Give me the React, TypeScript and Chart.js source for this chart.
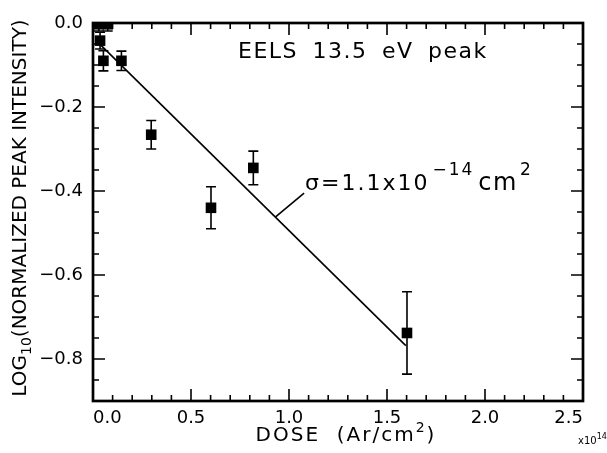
import { useEffect, useRef } from "react";
import { Chart, registerables } from "chart.js";

Chart.register(...registerables);

const FONT = '"DejaVu Sans", sans-serif';

// Ar dose, in units of 1e14 ions/cm^2
const doseValues = [0.03, 0.075, 0.036, 0.053, 0.145, 0.297, 0.602, 0.818, 1.602];
// log10 of the normalized 13.5 eV EELS peak intensity
const logIntensity = [-0.003, -0.003, -0.042, -0.09, -0.09, -0.266, -0.44, -0.345, -0.738];
// half-length of each error bar
const errorValues = [0.016, 0.016, 0.02, 0.024, 0.023, 0.034, 0.05, 0.04, 0.098];

// exponential-decay fit line, sigma = 1.1e-14 cm^2
const fitDose = [0.036, 1.596];
const fitLog = [-0.051, -0.768];

// short leader from the fit line to its label
const leaderDose = [0.93, 1.077];
const leaderLog = [-0.462, -0.405];

const xTickValues = [0, 0.5, 1.0, 1.5, 2.0, 2.5];
const yTickValues = [0, -0.2, -0.4, -0.6, -0.8];
const xMinorStep = 0.1;
const yMinorStep = 0.05;
const xRange = [0, 2.5];
const yRange = [-0.9, 0];

type Run = { t: string; size: number; dy?: number; gap?: number; ls?: number };

function setSpacing(ctx: CanvasRenderingContext2D, px: number) {
  (ctx as any).letterSpacing = `${px}px`;
}

function runsWidth(ctx: CanvasRenderingContext2D, runs: Run[], ls = 0) {
  let w = 0;
  for (const r of runs) {
    setSpacing(ctx, r.ls ?? ls);
    ctx.font = `${r.size}px ${FONT}`;
    w += ctx.measureText(r.t).width + (r.gap || 0);
  }
  setSpacing(ctx, 0);
  return w;
}

function drawRuns(ctx: CanvasRenderingContext2D, runs: Run[], x: number, y: number, ls = 0) {
  let cx = x;
  for (const r of runs) {
    setSpacing(ctx, r.ls ?? ls);
    ctx.font = `${r.size}px ${FONT}`;
    ctx.fillText(r.t, cx, y + (r.dy || 0));
    cx += ctx.measureText(r.t).width + (r.gap || 0);
  }
  setSpacing(ctx, 0);
}

const errorBars = {
  id: "errorBars",
  beforeDatasetsDraw(chart: any) {
    const { ctx, chartArea: a, scales } = chart;
    const x = scales.x;
    const y = scales.y;
    ctx.save();
    ctx.beginPath();
    ctx.rect(a.left, a.top, a.right - a.left, a.bottom - a.top);
    ctx.clip();
    ctx.strokeStyle = "#000";
    ctx.lineWidth = 1.6;
    doseValues.forEach((d, i) => {
      const px = x.getPixelForValue(d);
      const y1 = y.getPixelForValue(logIntensity[i] + errorValues[i]);
      const y2 = y.getPixelForValue(logIntensity[i] - errorValues[i]);
      ctx.beginPath();
      ctx.moveTo(px, y1);
      ctx.lineTo(px, y2);
      ctx.moveTo(px - 5, y1);
      ctx.lineTo(px + 5, y1);
      ctx.moveTo(px - 5, y2);
      ctx.lineTo(px + 5, y2);
      ctx.stroke();
    });
    ctx.restore();
  },
};

const frameAndText = {
  id: "frameAndText",
  afterDatasetsDraw(chart: any) {
    const { ctx, chartArea: a, scales } = chart;
    const x = scales.x;
    const y = scales.y;
    ctx.save();
    ctx.strokeStyle = "#000";
    ctx.fillStyle = "#000";

    // inward ticks on all four sides
    ctx.lineWidth = 1.6;
    ctx.beginPath();
    const nx = Math.round((xRange[1] - xRange[0]) / xMinorStep);
    for (let k = 0; k <= nx; k++) {
      const v = xRange[0] + k * xMinorStep;
      const major = xTickValues.some((t) => Math.abs(t - v) < 1e-6);
      const len = major ? 12 : 6;
      const px = x.getPixelForValue(v);
      ctx.moveTo(px, a.bottom);
      ctx.lineTo(px, a.bottom - len);
      ctx.moveTo(px, a.top);
      ctx.lineTo(px, a.top + len);
    }
    const ny = Math.round((yRange[1] - yRange[0]) / yMinorStep);
    for (let k = 0; k <= ny; k++) {
      const v = yRange[1] - k * yMinorStep;
      const major = yTickValues.some((t) => Math.abs(t - v) < 1e-6);
      const len = major ? 12 : 6;
      const py = y.getPixelForValue(v);
      ctx.moveTo(a.left, py);
      ctx.lineTo(a.left + len, py);
      ctx.moveTo(a.right, py);
      ctx.lineTo(a.right - len, py);
    }
    ctx.stroke();

    // frame
    ctx.lineWidth = 2.7;
    ctx.strokeRect(a.left, a.top, a.right - a.left, a.bottom - a.top);

    // leader line and fit label
    const lx0 = x.getPixelForValue(leaderDose[0]);
    const ly0 = y.getPixelForValue(leaderLog[0]);
    const lx1 = x.getPixelForValue(leaderDose[1]);
    const ly1 = y.getPixelForValue(leaderLog[1]);
    ctx.lineWidth = 1.6;
    ctx.beginPath();
    ctx.moveTo(lx0, ly0);
    ctx.lineTo(lx1, ly1);
    ctx.stroke();

    ctx.textBaseline = "alphabetic";
    ctx.textAlign = "left";
    drawRuns(
      ctx,
      [
        { t: "σ=1.1x10", size: 22, gap: 3 },
        { t: "−14", size: 17, dy: -15, gap: 4 },
        { t: "cm", size: 24, gap: 2, ls: 1.5 },
        { t: "2", size: 17, dy: -15 },
      ],
      lx1 + 1,
      ly1 - 3,
      2
    );

    // panel title
    (ctx as any).wordSpacing = "6px";
    ctx.font = `22px ${FONT}`;
    setSpacing(ctx, 1.5);
    ctx.fillText("EELS 13.5 eV peak", 238, 58);
    setSpacing(ctx, 0);
    (ctx as any).wordSpacing = "0px";

    // x-axis title
    const xRuns: Run[] = [
      { t: "DOSE  (Ar/cm", size: 20 },
      { t: "2", size: 14, dy: -9 },
      { t: ")", size: 20 },
    ];
    const xcx = (a.left + a.right) / 2 + 8;
    drawRuns(ctx, xRuns, xcx - runsWidth(ctx, xRuns, 2) / 2, 441, 2);

    // scale multiplier
    drawRuns(
      ctx,
      [
        { t: "x10", size: 10 },
        { t: "14", size: 8, dy: -5 },
      ],
      578,
      444
    );

    // y-axis title
    const yRuns: Run[] = [
      { t: "LOG", size: 20 },
      { t: "10", size: 14, dy: 5 },
      { t: "(NORMALIZED PEAK INTENSITY)", size: 20 },
    ];
    ctx.translate(26, (a.top + a.bottom) / 2 - 4);
    ctx.rotate(-Math.PI / 2);
    drawRuns(ctx, yRuns, -runsWidth(ctx, yRuns) / 2, 0);

    ctx.restore();
  },
};

function fmt(v: number) {
  const s = Math.abs(v).toFixed(1);
  return v < -1e-9 ? "−" + s : s;
}

export default function App() {
  const ref = useRef<HTMLCanvasElement | null>(null);

  useEffect(() => {
    if (!ref.current) return;
    Chart.defaults.font.family = FONT;
    Chart.defaults.color = "#000";

    const chart = new Chart(ref.current, {
      type: "scatter",
      data: {
        datasets: [
          {
            type: "line",
            data: fitDose.map((d, i) => ({ x: d, y: fitLog[i] })),
            borderColor: "#000",
            borderWidth: 1.6,
            pointRadius: 0,
            fill: false,
            clip: 0,
          } as any,
          {
            data: doseValues.map((d, i) => ({ x: d, y: logIntensity[i] })),
            pointStyle: "rect",
            pointRadius: 7.5,
            pointBackgroundColor: "#000",
            pointBorderWidth: 0,
            borderColor: "#000",
            clip: 0,
          } as any,
        ],
      },
      options: {
        responsive: false,
        animation: false,
        events: [],
        layout: { padding: { top: 23, right: 24, left: 0, bottom: 0 } },
        plugins: {
          legend: { display: false },
          tooltip: { enabled: false },
        },
        scales: {
          x: {
            type: "linear",
            min: xRange[0],
            max: xRange[1],
            grid: { display: false, drawTicks: false },
            border: { display: false },
            afterBuildTicks: (s: any) => {
              s.ticks = xTickValues.map((v) => ({ value: v }));
            },
            afterFit: (s: any) => {
              s.height = 52;
            },
            ticks: {
              padding: 7,
              align: "inner",
              maxRotation: 0,
              font: { size: 18, family: FONT },
              color: "#000",
              callback: (v: any) => Number(v).toFixed(1),
            },
          },
          y: {
            type: "linear",
            min: yRange[0],
            max: yRange[1],
            grid: { display: false, drawTicks: false },
            border: { display: false },
            afterBuildTicks: (s: any) => {
              s.ticks = yTickValues.map((v) => ({ value: v }));
            },
            afterFit: (s: any) => {
              s.width = 93;
            },
            ticks: {
              padding: 10,
              font: { size: 18, family: FONT },
              color: "#000",
              callback: (v: any) => fmt(Number(v)),
            },
          },
        },
      } as any,
      plugins: [errorBars, frameAndText],
    });
    return () => chart.destroy();
  }, []);

  return (
    <div style={{ position: "fixed", left: 0, top: 0, width: 607, height: 453, background: "#fff" }}>
      <canvas ref={ref} width={607} height={453} style={{ display: "block" }} />
    </div>
  );
}
